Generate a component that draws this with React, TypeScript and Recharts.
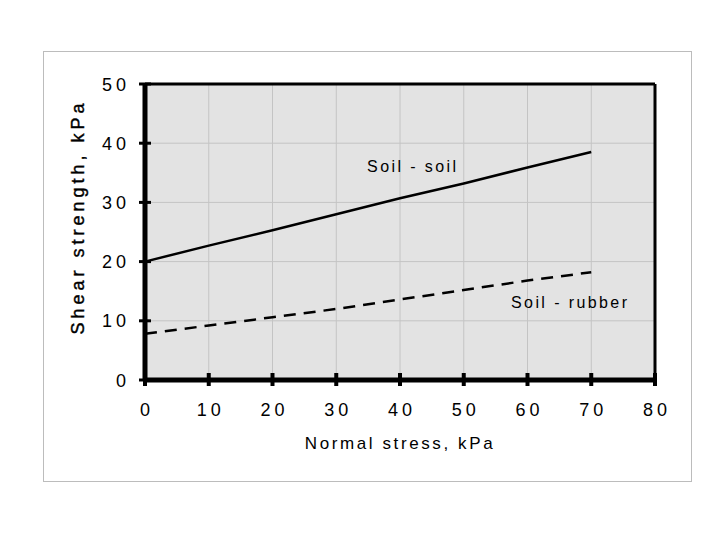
import React from 'react';
import {LineChart, Line, XAxis, YAxis, CartesianGrid, ReferenceLine, ReferenceDot} from 'recharts';

const normalStress = [0, 10, 20, 30, 40, 50, 60, 70];
const soilSoil = [20, 22.7, 25.3, 28.0, 30.7, 33.2, 35.9, 38.5];
const soilRubber = [7.8, 9.2, 10.6, 12.0, 13.6, 15.2, 16.8, 18.2];
const xTicks = [0, 10, 20, 30, 40, 50, 60, 70, 80];
const yTicks = [0, 10, 20, 30, 40, 50];

const data = normalStress.map((x, i) => ({x, soil: soilSoil[i], rubber: soilRubber[i]}));

const FONT = '"Liberation Sans", Arial, sans-serif';
const PLOT_LEFT = 145;
const PLOT_BOTTOM = 380;

const YTick = (props: any) => {
    const y = props.payload.coordinate;
    return (
        <g>
            <line x1={PLOT_LEFT - 6} x2={PLOT_LEFT + 6} y1={y} y2={y} stroke="#000" strokeWidth={3} />
            <text x={130} y={y + 6.5} textAnchor="end" fontSize={18} letterSpacing={4} fontFamily={FONT} fill="#000">
                {props.payload.value}
            </text>
        </g>
    );
};

const XTick = (props: any) => {
    const x = props.payload.coordinate;
    return (
        <g>
            <line x1={x} x2={x} y1={PLOT_BOTTOM - 7} y2={PLOT_BOTTOM + 6} stroke="#000" strokeWidth={4} />
            <text x={x + 2} y={416} textAnchor="middle" fontSize={18} letterSpacing={4} fontFamily={FONT} fill="#000">
                {props.payload.value}
            </text>
        </g>
    );
};

const YLabel = () => (
    <text x={84} y={217} transform="rotate(-90 84 217)" textAnchor="middle" fontSize={18} letterSpacing={4}
          fontFamily={FONT} fill="#000" stroke="#000" strokeWidth={0.4}>
        Shear strength, kPa
    </text>
);

const XLabel = () => (
    <text x={400} y={449} textAnchor="middle" fontSize={17} letterSpacing={2.6} fontFamily={FONT} fill="#000">
        Normal stress, kPa
    </text>
);

export default function App() {
    return (
        <div style={{position: 'absolute', left: 0, top: 0, width: 720, height: 540, background: '#fff'}}>
            <div style={{position: 'absolute', left: 43, top: 51, width: 647, height: 429, border: '1px solid #bcbcbc'}} />
            <div style={{position: 'absolute', left: 0, top: 0}}>
                <LineChart width={720} height={540} data={data} margin={{top: 84, right: 65, bottom: 130, left: 85}}>
                    <CartesianGrid stroke="#c4c4c4" fill="#e3e3e3" fillOpacity={1} />
                    <XAxis
                        dataKey="x"
                        type="number"
                        domain={[0, 80]}
                        ticks={xTicks}
                        height={30}
                        axisLine={{stroke: '#000', strokeWidth: 5}}
                        tickLine={false}
                        tick={<XTick />}
                        label={<XLabel />}
                        interval={0}
                    />
                    <YAxis
                        type="number"
                        domain={[0, 50]}
                        ticks={yTicks}
                        width={60}
                        axisLine={{stroke: '#000', strokeWidth: 5}}
                        tickLine={false}
                        tick={<YTick />}
                        label={<YLabel />}
                        interval={0}
                    />
                    <ReferenceLine y={50} stroke="#000" strokeWidth={3} />
                    <ReferenceLine x={80} stroke="#000" strokeWidth={3} />
                    <Line dataKey="soil" stroke="#000" strokeWidth={2.5} dot={false} isAnimationActive={false} />
                    <Line dataKey="rubber" stroke="#000" strokeWidth={2.5} strokeDasharray="12 8" dot={false}
                          isAnimationActive={false} />
                    <ReferenceDot x={42} y={36.1} r={0} fill="none" stroke="none"
                                  label={{value: 'Soil - soil', position: 'center', fontSize: 16, letterSpacing: 2.4, fontFamily: FONT, fill: '#000'}} />
                    <ReferenceDot x={66.7} y={13.2} r={0} fill="none" stroke="none"
                                  label={{value: 'Soil - rubber', position: 'center', fontSize: 16, letterSpacing: 2.4, fontFamily: FONT, fill: '#000'}} />
                </LineChart>
            </div>
        </div>
    );
}
